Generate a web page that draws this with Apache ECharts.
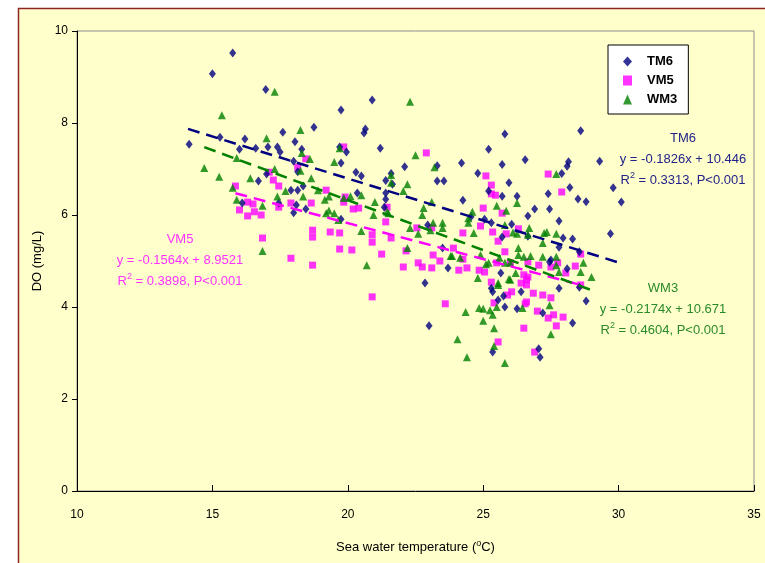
<!DOCTYPE html>
<html>
<head>
<meta charset="utf-8">
<title>DO vs sea water temperature</title>
<script src="https://cdn.jsdelivr.net/npm/echarts@6/dist/echarts.min.js"></script>
<style>
  html, body { margin: 0; padding: 0; background: #ffffff; }
  #chart { width: 765px; height: 563px; }
</style>
</head>
<body>
<div id="chart"></div>
<script>
// [temperature, DO]
var tm6Data = [
  [14.14,7.54],[15.0,9.07],[15.75,9.52],[15.28,7.69],[16.2,7.65],[16.0,7.43],[16.97,8.73],[16.6,7.45],
  [17.05,7.48],[16.7,6.74],[17.0,6.89],[17.4,7.48],[17.5,7.37],[17.6,7.8],[18.05,7.59],[18.0,7.17],
  [18.3,7.43],[18.75,7.91],[18.15,6.94],[18.15,6.54],[17.9,6.54],[18.35,6.63],[18.1,6.22],[18.45,6.13],
  [16.1,6.26],[17.45,6.26],[18.0,6.05],[19.75,8.28],[19.7,7.48],[19.95,7.37],[19.75,7.13],[20.9,8.5],
  [20.6,7.78],[20.65,7.87],[21.2,7.45],[20.3,6.93],[20.5,6.85],[20.35,6.48],[21.4,6.48],[21.6,6.9],
  [21.4,6.75],[21.65,6.67],[21.4,6.34],[21.35,6.17],[19.75,5.91],[22.1,7.05],[25.8,7.76],[28.6,7.83],
  [25.2,7.43],[26.55,7.2],[29.3,7.17],[28.15,7.16],[28.1,7.06],[25.7,7.1],[24.2,7.13],[23.3,7.07],
  [24.8,6.91],[27.9,6.9],[23.3,6.74],[23.55,6.74],[25.95,6.7],[28.2,6.6],[29.8,6.59],[25.2,6.52],
  [25.7,6.41],[26.25,6.41],[27.4,6.46],[28.5,6.35],[28.8,6.29],[30.1,6.28],[24.25,6.32],[26.9,6.13],
  [26.65,5.98],[27.45,6.13],[27.8,5.87],[25.05,5.91],[25.3,5.83],[26.05,5.8],[24.55,5.96],[22.95,5.78],
  [27.95,5.5],[28.3,5.48],[29.7,5.59],[23.5,5.28],[23.7,4.85],[27.5,5.02],[27.8,5.3],[28.55,5.2],
  [26.65,5.54],[25.7,5.52],[25.65,4.74],[22.85,4.52],[23.0,3.59],[25.3,4.41],[25.35,4.33],[25.75,4.24],
  [25.8,4.0],[26.25,3.96],[26.4,4.33],[27.2,3.87],[27.8,4.41],[28.55,4.43],[28.8,4.13],[28.3,3.65],
  [25.35,3.02],[27.05,3.09],[27.1,2.91],[25.55,4.15],[27.45,4.98],[28.1,4.83]
];
var vm5Data = [
  [15.85,6.63],[16.0,6.11],[16.3,6.28],[16.3,5.98],[16.5,6.24],[16.55,6.07],[16.8,6.0],[16.85,5.5],
  [17.1,6.93],[17.25,6.76],[17.45,6.63],[17.45,6.17],[17.9,6.26],[17.9,5.06],[18.15,7.04],[18.45,7.22],
  [18.65,6.26],[18.7,5.67],[18.7,5.52],[18.7,4.91],[19.35,5.63],[19.7,5.61],[19.7,5.26],[20.15,5.24],
  [19.85,7.48],[20.2,6.13],[20.4,6.15],[19.9,6.39],[19.85,6.28],[19.2,6.54],[20.9,5.57],[20.9,5.41],
  [21.25,5.15],[21.4,5.85],[21.6,5.5],[21.45,6.17],[20.9,4.22],[22.15,5.22],[22.05,4.87],[22.6,4.96],
  [22.75,4.87],[22.55,5.72],[22.9,7.35],[23.1,5.72],[23.15,5.13],[23.4,5.0],[23.1,4.85],[23.6,4.07],
  [23.9,5.28],[24.25,5.61],[24.25,5.04],[24.1,4.8],[24.4,4.85],[24.85,4.8],[25.05,4.76],[24.9,5.76],
  [25.1,6.85],[25.3,6.65],[25.3,6.46],[25.45,6.43],[25.0,6.15],[25.7,6.04],[25.35,5.63],[26.3,5.7],
  [25.85,5.59],[25.55,5.43],[25.8,5.2],[26.0,4.96],[25.5,4.96],[25.3,4.54],[26.4,4.52],[26.05,4.33],
  [25.9,4.26],[26.6,4.59],[26.6,4.11],[25.4,4.09],[26.5,3.54],[25.55,3.24],[26.65,4.98],[27.75,4.96],
  [27.4,6.89],[27.9,6.5],[28.4,4.89],[28.6,5.15],[28.05,4.74],[27.5,4.87],[27.05,4.91],[26.5,4.7],
  [26.65,4.65],[26.6,4.48],[26.85,4.3],[27.2,4.26],[27.5,4.2],[26.55,4.07],[27.0,3.91],[27.6,3.83],
  [27.4,3.76],[27.95,3.78],[27.7,3.59],[26.9,3.02],[28.6,4.48]
];
var wm3Data = [
  [14.7,7.02],[15.35,8.17],[15.25,6.83],[15.75,6.59],[15.9,7.24],[15.9,6.33],[16.4,6.8],[16.85,6.2],
  [16.85,5.22],[17.0,7.67],[17.3,8.68],[17.3,7.0],[17.4,6.4],[17.7,6.52],[18.25,7.85],[18.25,6.96],
  [18.3,7.35],[18.35,6.4],[18.6,7.22],[18.65,6.8],[18.9,6.54],[19.15,6.33],[19.3,6.4],[19.2,6.04],
  [19.3,6.1],[19.5,6.04],[19.65,5.89],[19.7,7.45],[19.5,7.15],[19.85,6.37],[20.1,6.41],[20.5,6.43],
  [20.5,5.65],[20.7,4.91],[21.0,6.28],[20.95,6.0],[21.5,6.04],[21.6,6.87],[21.6,6.7],[21.45,6.07],
  [22.3,8.46],[22.5,7.3],[23.2,7.04],[22.2,6.67],[22.05,6.52],[23.1,6.28],[22.8,6.15],[22.75,6.0],
  [23.15,5.83],[23.5,5.83],[23.5,5.72],[22.3,5.72],[22.6,5.59],[23.05,5.67],[22.2,5.28],[24.45,5.93],
  [24.45,5.83],[24.6,6.07],[24.65,5.61],[25.85,6.09],[26.25,6.26],[25.5,6.2],[25.8,5.78],[26.25,5.59],
  [26.1,5.62],[27.7,6.89],[26.7,5.72],[27.35,5.63],[27.7,5.59],[26.65,5.57],[27.25,5.61],[27.2,5.39],
  [26.3,5.28],[23.8,5.11],[24.15,5.07],[23.85,5.11],[24.9,5.13],[25.1,4.93],[25.6,5.07],[25.8,4.96],
  [26.0,4.96],[26.3,5.13],[26.5,5.09],[26.75,5.11],[27.2,5.09],[27.7,5.09],[28.6,4.76],[29.0,4.65],
  [27.8,4.76],[28.7,4.96],[24.8,4.63],[25.2,4.96],[25.55,4.52],[25.55,4.48],[25.95,4.61],[26.0,4.59],
  [26.2,4.74],[27.7,4.91],[24.35,3.89],[24.05,3.3],[24.4,2.91],[24.85,3.98],[25.0,3.96],[25.25,3.93],
  [25.0,3.7],[25.35,3.83],[25.4,3.54],[25.4,3.15],[25.8,2.78],[25.5,4.0],[26.45,3.98],[27.45,4.04],
  [27.5,3.41]
];

// linear fits shown on the chart: slope, intercept, x range of the drawn line
var fitNames = ['TM6', 'VM5', 'WM3'];
var fitSlope = [-0.1826, -0.1564, -0.2174];
var fitIntercept = [10.446, 8.9521, 10.671];
var fitRange = [[14.1, 30.05], [15.85, 28.6], [14.7, 29.0]];
var fitR2 = ['0.3313', '0.3898', '0.4604'];

var xTicks = [10, 15, 20, 25, 30, 35];
var yTicks = [0, 2, 4, 6, 8, 10];

var colors = { TM6: '#000080', VM5: '#ff00ff', WM3: '#008000' };
var textColors = { TM6: '#22228a', VM5: '#ff33ff', WM3: '#2a8a2a' };

function fitLine(i) {
  return fitRange[i].map(function (x) {
    return [x, fitSlope[i] * x + fitIntercept[i]];
  });
}

function eqText(i) {
  var s = fitSlope[i] < 0 ? '-' + Math.abs(fitSlope[i]) : String(fitSlope[i]);
  return 'y = ' + s + 'x + ' + fitIntercept[i];
}

// three centred lines of fit text, cy = middle of the first line
function fitLabel(i, cx, cy) {
  var c = textColors[fitNames[i]];
  var base = {
    fill: c, font: '13px Arial, "Liberation Sans", sans-serif',
    align: 'center', verticalAlign: 'middle'
  };
  return [
    { type: 'text', x: cx, y: cy, style: Object.assign({ text: fitNames[i] }, base) },
    { type: 'text', x: cx, y: cy + 21, style: Object.assign({ text: eqText(i) }, base) },
    {
      type: 'text', x: cx, y: cy + 42,
      style: Object.assign({
        text: 'R{sup|2} = ' + fitR2[i] + ', P<0.001',
        rich: { sup: { fontSize: 9, verticalAlign: 'top', padding: [0, 0, 8, 0], fill: c } }
      }, base)
    }
  ];
}

var chart = echarts.init(document.getElementById('chart'));

var graphics = [
  {
    type: 'rect', z: -10, silent: true,
    shape: { x: 18.5, y: 8.5, width: 800, height: 600 },
    style: { fill: '#ffffcc', stroke: '#8e2424', lineWidth: 1.5 }
  }
];
graphics = graphics
  .concat(fitLabel(0, 683, 138))
  .concat(fitLabel(1, 180, 239))
  .concat(fitLabel(2, 663, 288));

var option = {
  backgroundColor: '#ffffff',
  animation: false,
  textStyle: { fontFamily: 'Arial, "Liberation Sans", sans-serif' },
  graphic: graphics,
  grid: {
    left: 77, top: 31, width: 677, height: 460,
    show: true, borderColor: '#8c8c8c', borderWidth: 1, backgroundColor: 'transparent'
  },
  legend: {
    orient: 'vertical',
    left: 608, top: 45,
    data: ['TM6', 'VM5', 'WM3'],
    backgroundColor: '#ffffff',
    borderColor: '#000000', borderWidth: 1,
    padding: [10, 11, 8, 15],
    itemWidth: 9, itemHeight: 10, itemGap: 6,
    textStyle: { color: '#000000', fontSize: 13, fontWeight: 'bold', padding: [0, 0, 0, 10] }
  },
  xAxis: {
    type: 'value', min: 10, max: 35, interval: 5,
    name: 'Sea water temperature ({sup|o}C)',
    nameLocation: 'middle', nameGap: 48,
    nameTextStyle: {
      color: '#000000', fontSize: 13,
      rich: { sup: { fontSize: 9, verticalAlign: 'top', padding: [0, 0, 8, 0] } }
    },
    axisLine: { lineStyle: { color: '#000000', width: 1 } },
    axisTick: { inside: true, length: 6, lineStyle: { color: '#000000' } },
    axisLabel: {
      color: '#000000', fontSize: 12, margin: 18,
      formatter: function (v) { return xTicks.indexOf(v) >= 0 ? String(v) : ''; }
    },
    splitLine: { show: false }
  },
  yAxis: {
    type: 'value', min: 0, max: 10, interval: 2,
    name: 'DO (mg/L)',
    nameLocation: 'middle', nameGap: 31, nameRotate: 90,
    nameTextStyle: { color: '#000000', fontSize: 13 },
    axisLine: { show: true, lineStyle: { color: '#000000', width: 1 } },
    axisTick: { show: true, length: 5, lineStyle: { color: '#000000' } },
    axisLabel: {
      color: '#000000', fontSize: 12, margin: 9,
      formatter: function (v) { return yTicks.indexOf(v) >= 0 ? String(v) : ''; }
    },
    splitLine: { show: false }
  },
  series: [
    {
      name: 'TM6', type: 'scatter', data: tm6Data,
      symbol: 'diamond', symbolSize: [7, 9],
      itemStyle: { color: colors.TM6 }, z: 3
    },
    {
      name: 'VM5', type: 'scatter', data: vm5Data,
      symbol: 'rect', symbolSize: 7,
      itemStyle: { color: colors.VM5 }, z: 2
    },
    {
      name: 'WM3', type: 'scatter', data: wm3Data,
      symbol: 'triangle', symbolSize: [8, 8],
      itemStyle: { color: colors.WM3 }, z: 4
    }
  ].concat(fitNames.map(function (n, i) {
    return {
      name: n + ' fit', type: 'line', data: fitLine(i),
      symbol: 'none', silent: true, z: 5,
      lineStyle: { color: colors[n], width: 2.5, type: [12, 7] }
    };
  }))
};

chart.setOption(option);
</script>
</body>
</html>
